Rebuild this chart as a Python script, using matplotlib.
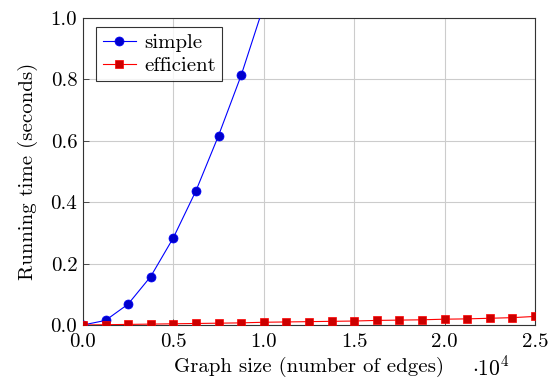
import matplotlib
matplotlib.use("Agg")
import matplotlib.pyplot as plt

plt.rcParams['font.family'] = ['cmr10', 'DejaVu Serif']
plt.rcParams['mathtext.fontset'] = 'cm'
plt.rcParams['axes.formatter.use_mathtext'] = True

simple_x = [0, 1250, 2500, 3750, 5000, 6250, 7500, 8750, 10000]
simple_y = [0.0, 0.015, 0.068, 0.158, 0.284, 0.437, 0.617, 0.813, 1.04]

eff_x = [0, 1250, 2500, 3750, 5000, 6250, 7500, 8750, 10000, 11250, 12500,
         13750, 15000, 16250, 17500, 18750, 20000, 21250, 22500, 23750, 25000]
eff_y = [0.0, 0.001, 0.002, 0.003, 0.004, 0.005, 0.006, 0.007, 0.009, 0.010,
         0.011, 0.012, 0.013, 0.015, 0.016, 0.017, 0.019, 0.020, 0.022, 0.024,
         0.028]

xticks = [0, 5000, 10000, 15000, 20000, 25000]
xtick_labels = ["0.0", "0.5", "1.0", "1.5", "2.0", "2.5"]
yticks = [0.0, 0.2, 0.4, 0.6, 0.8, 1.0]
ytick_labels = ["0.0", "0.2", "0.4", "0.6", "0.8", "1.0"]

fig = plt.figure(figsize=(5.49, 3.84), dpi=100)
ax = fig.add_axes([0.151, 0.1536, 0.8235, 0.7995])

ax.plot(simple_x, simple_y, color=(0, 0, 1), lw=0.8, marker='o', ms=6.5,
        mfc=(0, 0, 0.8), mec=(0, 0, 1), mew=0.5, label='simple', zorder=3)
ax.plot(eff_x, eff_y, color=(1, 0, 0), lw=0.8, marker='s', ms=6,
        mfc=(0.8, 0, 0), mec=(1, 0, 0), mew=0.5, label='efficient', zorder=3)

ax.set_xlim(0, 25000)
ax.set_ylim(0, 1.0)
ax.set_xticks(xticks)
ax.set_xticklabels(xtick_labels)
ax.set_yticks(yticks)
ax.set_yticklabels(ytick_labels)
ax.tick_params(direction='in', length=4, width=0.6, labelsize=15, pad=4,
               colors='#333333', labelcolor='black', top=False, right=False)
ax.tick_params(axis='x', pad=6)
ax.grid(True, color='#cccccc', lw=0.8)
ax.set_axisbelow(True)
for s in ax.spines.values():
    s.set_linewidth(0.8)
    s.set_color('#333333')

ax.set_xlabel("Graph size (number of edges)", fontsize=15, labelpad=4)
ax.set_ylabel("Running time (seconds)", fontsize=15, labelpad=9)
fig.text(0.894, 0.012, r"$\cdot10^4$", fontsize=15.5, ha='center', va='bottom')

leg = ax.legend(loc='upper left', bbox_to_anchor=(0.03, 0.97), fontsize=15,
                frameon=True, fancybox=False, edgecolor='black',
                handlelength=1.6, borderpad=0.3, labelspacing=0.2,
                handletextpad=0.4, borderaxespad=0)
leg.get_frame().set_linewidth(0.8)

fig.savefig("out.png", dpi=100)
